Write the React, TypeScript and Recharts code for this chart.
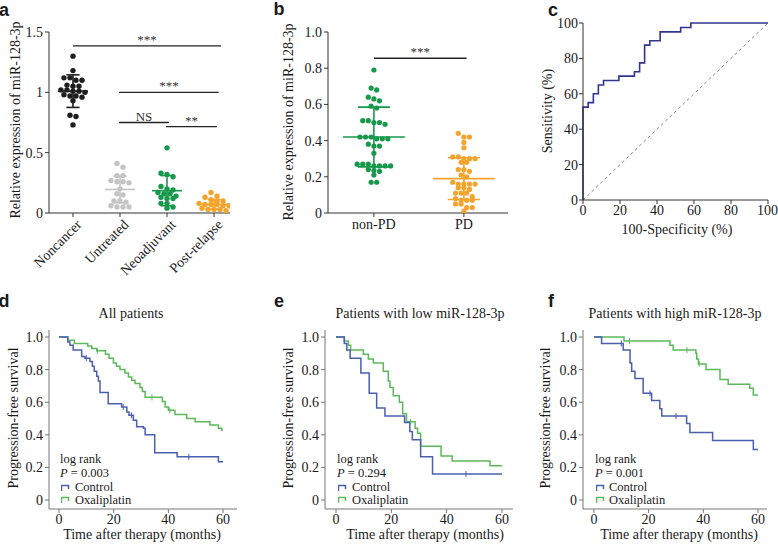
import React from 'react';
import { ComposedChart, Scatter, Line, XAxis, YAxis, ReferenceLine } from 'recharts';

const SERIF = "'Liberation Serif', Tinos, 'Noto Serif', 'DejaVu Serif', 'Times New Roman', Times, serif";
const SANS = "'Liberation Sans', Arial, sans-serif";

// ---- panel a: expression by group ----
const aGroups = ['Noncancer', 'Untreated', 'Neoadjuvant', 'Post-relapse'];
const aColors = ['#1e1e1e', '#c4c4c4', '#17994b', '#f4a42c'];
const aNoncancer = [1.30, 1.18, 1.12, 1.12, 1.10, 1.10, 1.06, 1.05, 1.05, 1.02, 1.02, 1.01, 1.01, 1.00, 0.98, 0.97, 0.97, 0.96, 0.93, 0.81, 0.80, 0.73];
const aUntreated = [0.41, 0.38, 0.31, 0.31, 0.27, 0.26, 0.26, 0.25, 0.20, 0.16, 0.15, 0.10, 0.10, 0.09, 0.06, 0.05, 0.05, 0.05];
const aNeoadjuvant = [0.54, 0.33, 0.32, 0.30, 0.22, 0.20, 0.19, 0.17, 0.16, 0.16, 0.14, 0.13, 0.12, 0.12, 0.08, 0.08, 0.05, 0.04];
const aPostRelapse = [0.17, 0.14, 0.13, 0.11, 0.10, 0.10, 0.08, 0.07, 0.07, 0.07, 0.06, 0.06, 0.04, 0.03, 0.03, 0.03, 0.02];
const aMean = [1.01, 0.195, 0.185, 0.072];
const aSd = [0.135, 0.11, 0.125, 0.04];
const aSigLabel = ['***', '***', 'NS', '**'];
const aSigY = [1.385, 1.0, 0.75, 0.715];
const aSigFrom = [0, 0.98, 0.98, 1.98];
const aSigTo = [3.15, 3.1, 2.04, 3.06];

// ---- panel b: non-PD vs PD ----
const bGroups = ['non-PD', 'PD'];
const bColors = ['#17994b', '#f4a42c'];
const bNonPD = [0.79, 0.69, 0.68, 0.64, 0.63, 0.62, 0.59, 0.58, 0.51, 0.51, 0.50, 0.50, 0.49, 0.42, 0.42, 0.42, 0.41, 0.41, 0.41, 0.38, 0.37, 0.37, 0.33, 0.27, 0.27, 0.27, 0.26, 0.26, 0.26, 0.26, 0.24, 0.235, 0.23, 0.21, 0.17, 0.17];
const bPD = [0.44, 0.42, 0.42, 0.39, 0.36, 0.31, 0.31, 0.30, 0.30, 0.30, 0.28, 0.28, 0.24, 0.24, 0.23, 0.21, 0.20, 0.17, 0.16, 0.16, 0.16, 0.16, 0.14, 0.14, 0.13, 0.11, 0.11, 0.11, 0.09, 0.08, 0.07, 0.07, 0.07, 0.05, 0.05, 0.03, 0.03, 0.01];
const bMean = [0.42, 0.19];
const bSd = [0.165, 0.115];

// ---- panel c: ROC ----
const rocFpr = [0, 0, 2.8, 5.6, 8.3, 11.1, 19.4, 27.8, 30.6, 33.3, 36.1, 41.7, 52.8, 58.3, 100];
const rocSens = [0, 52.5, 55, 60, 65, 67.5, 70, 72.5, 77.5, 87.5, 90, 95, 97.5, 100, 100];

// ---- panels d-f: Kaplan-Meier ----
const dCtrlT = [0, 3.2, 4, 5.2, 8.3, 9.5, 11.3, 12.2, 12.9, 13.8, 14.4, 15, 18, 22.9, 24.8, 25.6, 27.2, 28.4, 30.9, 31.5, 35, 43.2, 58.3, 60];
const dCtrlS = [1.0, 0.97, 0.95, 0.92, 0.88, 0.87, 0.85, 0.82, 0.79, 0.76, 0.73, 0.66, 0.59, 0.57, 0.54, 0.52, 0.49, 0.45, 0.44, 0.40, 0.29, 0.265, 0.235, 0.235];
const dOxT = [0, 3.2, 5.6, 10.5, 12, 13.8, 17, 18.3, 19.9, 21, 22.3, 24.1, 25.4, 26.6, 27.8, 29.6, 30.5, 31.5, 37.8, 38.8, 40, 42.4, 46.7, 49.8, 55.2, 58.3, 59.5, 60];
const dOxS = [1.0, 0.98, 0.96, 0.945, 0.93, 0.915, 0.895, 0.87, 0.84, 0.82, 0.80, 0.78, 0.755, 0.735, 0.715, 0.69, 0.665, 0.63, 0.605, 0.57, 0.55, 0.525, 0.50, 0.48, 0.46, 0.44, 0.43, 0.43];
const dCtrlCens = [10, 23.5, 26.5, 47.5];
const dOxCens = [14, 34, 40.5];

const eCtrlT = [0, 3, 3.9, 5.1, 9, 12, 14.7, 17.7, 24.8, 26.7, 27.6, 30.6, 34.9, 60];
const eCtrlS = [1.0, 0.96, 0.92, 0.87, 0.78, 0.655, 0.565, 0.515, 0.475, 0.42, 0.37, 0.265, 0.16, 0.16];
const eOxT = [0, 3, 4.5, 5.3, 9.9, 11.7, 13.5, 17.1, 18.9, 19.5, 20.7, 22.9, 24.1, 25.5, 28.6, 29.5, 30.6, 38, 42, 55.7, 60];
const eOxS = [1.0, 0.975, 0.95, 0.92, 0.895, 0.865, 0.84, 0.79, 0.73, 0.69, 0.64, 0.60, 0.53, 0.48, 0.44, 0.41, 0.33, 0.27, 0.24, 0.21, 0.21];
const eCtrlCens = [47];
const eOxCens = [27];

const fCtrlT = [0, 2.8, 10.7, 13.2, 13.8, 15, 18, 21.1, 24.1, 24.8, 33.9, 35.1, 43.4, 58.3, 60];
const fCtrlS = [1.0, 0.96, 0.92, 0.84, 0.79, 0.745, 0.655, 0.61, 0.56, 0.515, 0.47, 0.415, 0.365, 0.31, 0.31];
const fOxT = [0, 11, 27.8, 29, 37.3, 37.6, 38.2, 41, 46.1, 49.1, 57, 58.3, 60];
const fOxS = [1.0, 0.975, 0.95, 0.92, 0.90, 0.865, 0.835, 0.80, 0.74, 0.71, 0.685, 0.645, 0.645];
const fCtrlCens = [10, 20.5, 30];
const fOxCens = [13, 34, 38.5];

const kmTitles = ['All patients', 'Patients with low miR-128-3p', 'Patients with high miR-128-3p'];
const kmPValues = ['0.003', '0.294', '0.001'];
const kmSeries = ['Control', 'Oxaliplatin'];
const CTRL = '#4a5fae';
const OXA = '#5cb85c';

// simple beeswarm: rows of near-equal values spread sideways
function swarm(values: number[], center: number, bin: number, step: number) {
  const sorted = [...values].sort((a, b) => b - a);
  const rows: number[][] = [];
  for (const v of sorted) {
    const r = rows[rows.length - 1];
    if (r && r[0] - v <= bin) r.push(v);
    else rows.push([v]);
  }
  return rows.flatMap(r => r.map((v, i) => ({ x: center + (i - (r.length - 1) / 2) * step, y: v })));
}

function stepPts(t: number[], s: number[]) {
  return t.map((x, i) => ({ x, y: s[i] }));
}

function censorPts(times: number[], t: number[], s: number[]) {
  return times.map(c => {
    let y = s[0];
    t.forEach((tt, i) => { if (tt <= c) y = s[i]; });
    return { x: c, y };
  });
}

const dot = (color: string, r = 2.7) => (p: any) => <circle cx={p.cx} cy={p.cy} r={r} fill={color} />;
const tickMark = (color: string) => (p: any) => (
  <line x1={p.cx} x2={p.cx} y1={p.cy - 3} y2={p.cy + 3} stroke={color} strokeWidth={1} />
);

function errorBars(mean: number[], sd: number[], colors: string[], half: number, cap: number) {
  return mean.flatMap((m, i) => [
    <ReferenceLine key={`m${i}`} segment={[{ x: i - half, y: m }, { x: i + half, y: m }]} stroke={colors[i]} strokeWidth={1.6} />,
    <ReferenceLine key={`t${i}`} segment={[{ x: i - cap, y: m + sd[i] }, { x: i + cap, y: m + sd[i] }]} stroke={colors[i]} strokeWidth={1.6} />,
    <ReferenceLine key={`b${i}`} segment={[{ x: i - cap, y: m - sd[i] }, { x: i + cap, y: m - sd[i] }]} stroke={colors[i]} strokeWidth={1.6} />,
    <ReferenceLine key={`v${i}`} segment={[{ x: i, y: m - sd[i] }, { x: i, y: m + sd[i] }]} stroke={colors[i]} strokeWidth={1.6} />,
  ]);
}

function Txt({ x, y, children, size = 14, rotate = false, left = false, bold = false, family = SERIF }: any) {
  return (
    <div
      style={{
        position: 'absolute', left: x, top: y, whiteSpace: 'nowrap', lineHeight: 1,
        fontSize: size, fontFamily: family, fontWeight: bold ? 700 : 400, color: '#1a1a1a',
        transform: `translate(${left ? '0' : '-50%'}, -50%)${rotate ? ' rotate(-90deg)' : ''}`,
      }}
    >
      {children}
    </div>
  );
}

const RotTick = (p: any) => {
  const ax = p.x + 6;
  const ay = p.y + 3;
  return (
    <text x={ax} y={ay} dy="0.35em" textAnchor="end" transform={`rotate(-45, ${ax}, ${ay})`}
      fill="#1a1a1a" fontSize={14} fontFamily={SERIF}>
      {aGroups[p.payload.value]}
    </text>
  );
};

const tickStyle = { fill: '#1a1a1a', fontSize: 14, fontFamily: SERIF };
const oneDec = (v: number) => (v === 0 ? '0' : v.toFixed(1));

function KmChart({ left, width, yw, right, xDomain, ctrl, ox, ctrlC, oxC }: any) {
  return (
    <div style={{ position: 'absolute', left, top: 280 }}>
      <ComposedChart width={width} height={264} margin={{ top: 50, right, bottom: 10, left: 0 }}>
        <XAxis type="number" dataKey="x" domain={xDomain} ticks={[0, 20, 40, 60]} height={25}
          stroke="#777" tickSize={4} tickMargin={1} tick={tickStyle} allowDataOverflow />
        <YAxis type="number" dataKey="y" domain={[-0.055, 1.043]} ticks={[0, 0.2, 0.4, 0.6, 0.8, 1]}
          width={yw} stroke="#777" tickSize={4} tickMargin={2} tick={tickStyle} tickFormatter={oneDec} allowDataOverflow />
        <Line data={ox} dataKey="y" type="stepAfter" stroke={OXA} strokeWidth={1.5} dot={false} isAnimationActive={false} />
        <Line data={ctrl} dataKey="y" type="stepAfter" stroke={CTRL} strokeWidth={1.5} dot={false} isAnimationActive={false} />
        <Scatter data={ctrlC} shape={tickMark(CTRL)} isAnimationActive={false} />
        <Scatter data={oxC} shape={tickMark(OXA)} isAnimationActive={false} />
      </ComposedChart>
    </div>
  );
}

function KmText({ i, cx, xlab, ylab, tx, ix }: any) {
  const icon = (c: string) => (
    <svg width={12} height={8} style={{ position: 'absolute', left: ix, marginTop: -4 }}>
      <path d="M0.5 7 V1.5 H7.5 V5" fill="none" stroke={c} strokeWidth={1.5} />
    </svg>
  );
  return (
    <>
      <Txt x={cx} y={314}>{kmTitles[i]}</Txt>
      <Txt x={ylab} y={418} rotate>Progression-free survival</Txt>
      <Txt x={xlab} y={535}>Time after therapy (months)</Txt>
      <Txt x={ix - 1} y={459} size={12.5} left>log rank</Txt>
      <Txt x={ix - 1} y={473} size={12.5} left><i>P</i> = {kmPValues[i]}</Txt>
      <div style={{ position: 'absolute', top: 488 }}>{icon(CTRL)}</div>
      <Txt x={tx} y={487} size={12.5} left>{kmSeries[0]}</Txt>
      <div style={{ position: 'absolute', top: 500 }}>{icon(OXA)}</div>
      <Txt x={tx} y={500} size={12.5} left>{kmSeries[1]}</Txt>
    </>
  );
}

export default function App() {
  const aData = [aNoncancer, aUntreated, aNeoadjuvant, aPostRelapse];
  const bData = [bNonPD, bPD];
  const roc = rocFpr.map((x, i) => ({ x, y: rocSens[i] }));
  const diag = [{ x: 0, y: 0 }, { x: 100, y: 100 }];

  return (
    <div style={{ position: 'absolute', left: 0, top: 0, width: 778, height: 544, background: '#fff', overflow: 'hidden' }}>
      {/* a */}
      <div style={{ position: 'absolute', left: 0, top: 0 }}>
        <ComposedChart width={240} height={280} margin={{ top: 32, right: 10, bottom: 0, left: 0 }}>
          <XAxis type="number" dataKey="x" domain={[-0.51, 3.34]} ticks={[0, 1, 2, 3]} height={67}
            stroke="#333" tickSize={4} tick={RotTick} allowDataOverflow />
          <YAxis type="number" dataKey="y" domain={[0, 1.5]} ticks={[0, 0.5, 1, 1.5]} width={49}
            stroke="#333" tickSize={4} tick={tickStyle} allowDataOverflow />
          {aData.map((vals, i) => (
            <Scatter key={i} data={swarm(vals, i, 0.035, 0.128)} shape={dot(aColors[i])} isAnimationActive={false} />
          ))}
          {errorBars(aMean, aSd, aColors, 0.32, 0.14)}
          {aSigY.map((y, i) => (
            <ReferenceLine key={`s${i}`} segment={[{ x: aSigFrom[i], y }, { x: aSigTo[i], y }]} stroke="#222" strokeWidth={1.3}
              label={{ value: aSigLabel[i], position: 'top', offset: 2, fill: '#333', fontSize: 13, fontFamily: SERIF }} />
          ))}
        </ComposedChart>
      </div>

      {/* b */}
      <div style={{ position: 'absolute', left: 250, top: 0 }}>
        <ComposedChart width={260} height={280} margin={{ top: 32, right: 2, bottom: 0, left: 0 }}>
          <XAxis type="number" dataKey="x" domain={[-0.51, 1.49]} ticks={[0, 1]} height={67}
            stroke="#333" tickSize={4} tick={tickStyle} tickFormatter={(v: number) => bGroups[v]} allowDataOverflow />
          <YAxis type="number" dataKey="y" domain={[0, 1]} ticks={[0, 0.2, 0.4, 0.6, 0.8, 1]} width={78}
            stroke="#333" tickSize={4} tick={tickStyle} tickFormatter={oneDec} allowDataOverflow />
          {bData.map((vals, i) => (
            <Scatter key={i} data={swarm(vals, i, 0.025, 0.062)} shape={dot(bColors[i], 2.6)} isAnimationActive={false} />
          ))}
          {errorBars(bMean, bSd, bColors, 0.344, 0.178)}
          <ReferenceLine segment={[{ x: 0, y: 0.855 }, { x: 1.03, y: 0.855 }]} stroke="#222" strokeWidth={1.3}
            label={{ value: '***', position: 'top', offset: 2, fill: '#333', fontSize: 13, fontFamily: SERIF }} />
        </ComposedChart>
      </div>

      {/* c */}
      <div style={{ position: 'absolute', left: 510, top: 0 }}>
        <ComposedChart width={268} height={280} margin={{ top: 23, right: 10, bottom: 0, left: 0 }}>
          <XAxis type="number" dataKey="x" domain={[0, 100]} ticks={[0, 20, 40, 60, 80, 100]} height={80}
            stroke="#333" tickSize={4} tickMargin={1} tick={tickStyle} />
          <YAxis type="number" dataKey="y" domain={[0, 100]} ticks={[0, 20, 40, 60, 80, 100]} width={73}
            stroke="#333" tickSize={4} tickMargin={1} tick={tickStyle} />
          <Line data={diag} dataKey="y" type="linear" stroke="#888" strokeWidth={1} strokeDasharray="3 3" dot={false} isAnimationActive={false} />
          <Line data={roc} dataKey="y" type="stepAfter" stroke="#30358f" strokeWidth={1.6} dot={false} isAnimationActive={false} />
        </ComposedChart>
      </div>

      <KmChart left={0} width={250} yw={49} right={13} xDomain={[-3.66, 65.1]}
        ctrl={stepPts(dCtrlT, dCtrlS)} ox={stepPts(dOxT, dOxS)}
        ctrlC={censorPts(dCtrlCens, dCtrlT, dCtrlS)} oxC={censorPts(dOxCens, dOxT, dOxS)} />
      <KmChart left={255} width={260} yw={70} right={2} xDomain={[-3.98, 64]}
        ctrl={stepPts(eCtrlT, eCtrlS)} ox={stepPts(eOxT, eOxS)}
        ctrlC={censorPts(eCtrlCens, eCtrlT, eCtrlS)} oxC={censorPts(eOxCens, eOxT, eOxS)} />
      <KmChart left={510} width={268} yw={73} right={11} xDomain={[-4.0, 63.3]}
        ctrl={stepPts(fCtrlT, fCtrlS)} ox={stepPts(fOxT, fOxS)}
        ctrlC={censorPts(fCtrlCens, fCtrlT, fCtrlS)} oxC={censorPts(fOxCens, fOxT, fOxS)} />

      {/* axis titles and labels */}
      <Txt x={16} y={120} rotate>Relative expression of miR-128-3p</Txt>
      <Txt x={289} y={122} rotate>Relative expression of miR-128-3p</Txt>
      <Txt x={548} y={111} rotate>Sensitivity (%)</Txt>
      <Txt x={677} y={230}>100-Specificity (%)</Txt>

      <KmText i={0} cx={131} xlab={142} ylab={14} ix={61} tx={75} />
      <KmText i={1} cx={420} xlab={425} ylab={289} ix={338} tx={352} />
      <KmText i={2} cx={675} xlab={679} ylab={546} ix={596} tx={609} />

      <Txt x={4} y={10} size={18} bold family={SANS}>a</Txt>
      <Txt x={279} y={9} size={18} bold family={SANS}>b</Txt>
      <Txt x={553} y={10} size={18} bold family={SANS}>c</Txt>
      <Txt x={4} y={301} size={18} bold family={SANS}>d</Txt>
      <Txt x={279} y={301} size={18} bold family={SANS}>e</Txt>
      <Txt x={551} y={301} size={18} bold family={SANS}>f</Txt>
    </div>
  );
}
